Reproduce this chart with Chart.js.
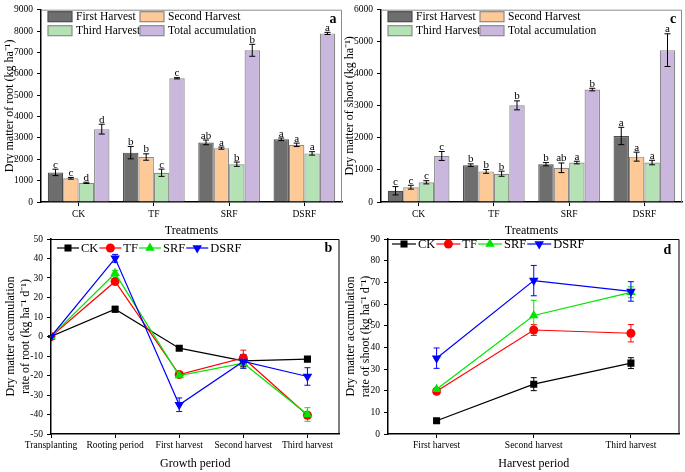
<!DOCTYPE html>
<html><head><meta charset="utf-8">
<script src="https://cdn.jsdelivr.net/npm/chart.js@4/dist/chart.umd.min.js"></script>
<style>
html,body{margin:0;padding:0;background:#fff;width:685px;height:472px;overflow:hidden;position:relative}
canvas{position:absolute}
</style></head><body>
<canvas id="ca" width="345" height="240" style="left:0;top:0"></canvas>
<canvas id="cc" width="345" height="240" style="left:340px;top:0"></canvas>
<canvas id="cb" width="345" height="246" style="left:0;top:226px"></canvas>
<canvas id="cd" width="345" height="246" style="left:340px;top:226px"></canvas>
<script>
// ---------- DATA ----------
const treatments = ['CK', 'TF', 'SRF', 'DSRF'];
const harvestSeries = ['First Harvest', 'Second Harvest', 'Third Harvest', 'Total accumulation'];
const yTicksRoot = [0, 1000, 2000, 3000, 4000, 5000, 6000, 7000, 8000, 9000];
const yTicksShoot = [0, 1000, 2000, 3000, 4000, 5000, 6000];

// Panel a: dry matter of root (rows = harvest series, cols = treatments)
const rootMeans = [
  [1385, 2310, 2790, 2935],
  [1110, 2105, 2520, 2675],
  [895, 1370, 1770, 2275],
  [3410, 5790, 7100, 7890]
];
const rootErr = [
  [150, 290, 110, 60],
  [40, 150, 50, 80],
  [30, 170, 100, 80],
  [230, 30, 280, 50]
];
const rootLetters = [
  ['c', 'b', 'ab', 'a'],
  ['c', 'b', 'a', 'a'],
  ['d', 'c', 'b', 'a'],
  ['d', 'c', 'b', 'a']
];

// Panel c: dry matter of shoot
const shootMeans = [
  [350, 1150, 1180, 2060],
  [462, 955, 1067, 1415],
  [615, 882, 1231, 1231],
  [1436, 3015, 3508, 4738]
];
const shootErr = [
  [130, 40, 50, 270],
  [60, 60, 150, 140],
  [50, 80, 40, 70],
  [140, 140, 40, 510]
];
const shootLetters = [
  ['c', 'b', 'b', 'a'],
  ['c', 'b', 'ab', 'a'],
  ['c', 'b', 'a', 'a'],
  ['c', 'b', 'b', 'a']
];

// Panel b: dry matter accumulation rate of root (rows = treatments)
const growthPeriods = ['Transplanting', 'Rooting period', 'First harvest', 'Second harvest', 'Third harvest'];
const rootRateMeans = [
  [0, 14, -6, -12.5, -11.6],
  [0, 28.2, -19.5, -11, -40.4],
  [0, 32.4, -20, -13.7, -40],
  [0, 40.1, -35, -12.8, -20.5]
];
const rootRateErr = [
  [0.5, 1.5, 1, 3, 1],
  [0.5, 1.5, 1, 4, 1.5],
  [0.5, 1.5, 1, 2.5, 3.5],
  [0.5, 2, 3.5, 3.5, 4.5]
];

// Panel d: dry matter accumulation rate of shoot
const harvestPeriods = ['First harvest', 'Second harvest', 'Third harvest'];
const shootRateMeans = [
  [6.1, 23, 32.7],
  [19.7, 48, 46.5],
  [20.7, 54.7, 65.4],
  [35, 70.8, 65.8]
];
const shootRateErr = [
  [1, 3, 2.5],
  [1, 2.5, 4],
  [0.5, 7, 2.5],
  [4.7, 7, 4.5]
];

// ---------- STYLE ----------
const SERIF = '"Liberation Serif", "Times New Roman", serif';
Chart.defaults.font.family = SERIF;
Chart.defaults.color = '#000';
const barFills = ['#6e6e6e', '#fcc997', '#b5e2b5', '#c9b7de'];
const barBorders = ['#4d4d4d', '#8a8a8a', '#8a8a8a', '#8a8a8a'];
const lineColors = ['#000000', '#ff0000', '#00e600', '#0000ff'];
const pointStyles = ['rect', 'circle', 'triangle', 'triangle'];
const pointRotations = [0, 0, 0, 180];
const pointRadii = [5, 4.5, 5.5, 5.5];

// ---------- PLUGINS ----------
function drawMarker(ctx, style, rot, r, x, y, color) {
  ctx.save();
  ctx.fillStyle = color; ctx.strokeStyle = color;
  ctx.beginPath();
  if (style === 'rect') {
    const s = r * Math.SQRT2 / 1.0 * 0.5;
    ctx.rect(x - s, y - s, 2 * s, 2 * s);
  } else if (style === 'circle') {
    ctx.arc(x, y, r, 0, Math.PI * 2);
  } else {
    const d = rot === 180 ? -1 : 1;
    const h = r * 1.5 * 0.5;
    ctx.moveTo(x, y - d * r);
    ctx.lineTo(x - r * 0.866, y + d * r * 0.5);
    ctx.lineTo(x + r * 0.866, y + d * r * 0.5);
    ctx.closePath();
  }
  ctx.fill();
  ctx.restore();
}

const errPlugin = {
  id: 'errbars',
  beforeDatasetsDraw(chart, args, o) { if (o.when === 'before') drawErr(chart, o); },
  afterDatasetsDraw(chart, args, o) { if (o.when !== 'before') drawErr(chart, o); }
};
function drawErr(chart, o) {
  const ctx = chart.ctx, ys = chart.scales.y;
  ctx.save();
  chart.data.datasets.forEach((ds, di) => {
    const meta = chart.getDatasetMeta(di);
    meta.data.forEach((el, i) => {
      const v = meta.controller.getParsed(i).y;
      const e = o.errors[di][i];
      const yt = ys.getPixelForValue(v + e), yb = ys.getPixelForValue(v - e);
      const x = el.x;
      ctx.strokeStyle = o.colors ? o.colors[di] : '#000';
      ctx.lineWidth = 1;
      ctx.beginPath();
      ctx.moveTo(x, yt); ctx.lineTo(x, yb);
      ctx.moveTo(x - o.cap, yt); ctx.lineTo(x + o.cap, yt);
      ctx.moveTo(x - o.cap, yb); ctx.lineTo(x + o.cap, yb);
      ctx.stroke();
      if (o.letters) {
        ctx.fillStyle = '#000';
        ctx.font = '11px ' + SERIF;
        ctx.textAlign = 'center';
        ctx.textBaseline = 'alphabetic';
        ctx.fillText(o.letters[di][i], x, yt - 1.5);
      }
    });
  });
  ctx.restore();
}

const framePlugin = {
  id: 'frame',
  afterDraw(chart, args, o) {
    const ctx = chart.ctx, a = chart.chartArea;
    ctx.save();
    ctx.strokeStyle = o.color; ctx.lineWidth = 1;
    ctx.beginPath();
    ctx.moveTo(a.left, a.top + 0.5);
    ctx.lineTo(a.right - 0.5, a.top + 0.5);
    ctx.lineTo(a.right - 0.5, a.bottom);
    ctx.stroke();
    ctx.fillStyle = '#000';
    ctx.font = 'bold 14px ' + SERIF;
    ctx.textAlign = 'center'; ctx.textBaseline = 'middle';
    ctx.fillText(o.letter, a.right + o.lx, a.top + o.ly);
    // legends
    if (o.type === 'box') {
      ctx.font = '11.5px ' + SERIF;
      ctx.textAlign = 'left';
      chart.data.datasets.forEach((ds, k) => {
        const col = k % 2, row = Math.floor(k / 2);
        const bx = a.left + o.cols[col], by = a.top + o.rows[row];
        ctx.fillStyle = ds.backgroundColor;
        ctx.fillRect(bx, by - 5, 24, 10);
        ctx.strokeStyle = ds.borderColor; ctx.lineWidth = 1.2;
        ctx.strokeRect(bx, by - 5, 24, 10);
        ctx.fillStyle = '#000';
        ctx.fillText(ds.label, bx + 28, by + 0.5);
      });
    } else if (o.type === 'line') {
      ctx.font = '12.5px ' + SERIF;
      ctx.textAlign = 'left';
      let x = a.left + o.lx0;
      const y = a.top + o.ly0;
      chart.data.datasets.forEach((ds, k) => {
        ctx.strokeStyle = ds.borderColor; ctx.lineWidth = 1.2;
        ctx.beginPath(); ctx.moveTo(x, y); ctx.lineTo(x + o.len, y); ctx.stroke();
        drawMarker(ctx, pointStyles[k], pointRotations[k], pointRadii[k], x + o.len / 2, y, ds.borderColor);
        ctx.fillStyle = '#000';
        ctx.fillText(ds.label, x + o.len + 2, y + 0.5);
        x += o.len + 2 + ctx.measureText(ds.label).width + 1;
      });
    }
    ctx.restore();
  }
};

function axisCommon() {
  return {
    grid: { display: true, drawOnChartArea: false, drawTicks: true, tickLength: 4, color: '#000', offset: false },
    border: { display: true, color: '#000', width: 1.5 }
  };
}

// ---------- BAR PANELS ----------
function barPanel(id, means, errs, letters, yTicks, yTitle, letter, lx) {
  const yMax = yTicks[yTicks.length - 1];
  return new Chart(document.getElementById(id), {
    type: 'bar',
    data: {
      labels: treatments,
      datasets: harvestSeries.map((name, k) => ({
        label: name, data: means[k],
        backgroundColor: barFills[k], borderColor: barBorders[k], borderWidth: 1.2,
        categoryPercentage: 0.82, barPercentage: 1
      }))
    },
    options: {
      responsive: false, animation: false, devicePixelRatio: 1, events: [],
      layout: { padding: { top: 7, right: 3, left: 0, bottom: 0 } },
      plugins: {
        legend: { display: false }, tooltip: { enabled: false },
        errbars: { errors: errs, letters: letters, cap: 3, when: 'after' },
        frame: { color: '#8c8c8c', letter: letter, lx: lx, ly: 10, type: 'box', cols: [7, 99], rows: [7, 21] }
      },
      scales: {
        x: Object.assign(axisCommon(), {
          ticks: { font: { size: 9.5 }, padding: 3, color: '#000' },
          title: { display: true, text: 'Treatments', font: { size: 12 }, padding: { top: 0, bottom: 2 } },
          afterFit: s => { s.height = 38; }
        }),
        y: Object.assign(axisCommon(), {
          min: 0, max: yMax,
          afterBuildTicks: s => { s.ticks = yTicks.map(v => ({ value: v })); },
          ticks: { font: { size: 9.5 }, padding: 4, color: '#000', callback: v => String(v) },
          title: { display: true, text: yTitle, font: { size: 12 }, padding: { top: 3, bottom: 0 } },
          afterFit: s => { s.width = 41; }
        })
      }
    },
    plugins: [errPlugin, framePlugin]
  });
}

barPanel('ca', rootMeans, rootErr, rootLetters, yTicksRoot, 'Dry matter of root (kg ha\u207B\u00B9)', 'a', -9);
barPanel('cc', shootMeans, shootErr, shootLetters, yTicksShoot, 'Dry matter of shoot (kg ha\u207B\u00B9)', 'c', -9);

// ---------- LINE PANELS ----------
function lineDatasets(means, xy) {
  return treatments.map((t, k) => ({
    label: t,
    data: xy ? means[k].map((v, i) => ({ x: i, y: v })) : means[k],
    borderColor: lineColors[k], backgroundColor: lineColors[k],
    borderWidth: 1.2, pointStyle: pointStyles[k], pointRotation: pointRotations[k],
    pointRadius: pointRadii[k], pointBorderWidth: 0, order: 3 - k
  }));
}

// Panel b
new Chart(document.getElementById('cb'), {
  type: 'line',
  data: { datasets: lineDatasets(rootRateMeans, true) },
  options: {
    responsive: false, animation: false, devicePixelRatio: 1, events: [],
    layout: { padding: { top: 13, right: 2, left: 0, bottom: 0 } },
    plugins: {
      legend: { display: false }, tooltip: { enabled: false },
      errbars: { errors: rootRateErr, colors: lineColors, cap: 3, when: 'before' },
      frame: { color: '#000', letter: 'b', lx: -11, ly: 9, type: 'line', lx0: 6, ly0: 9, len: 22 }
    },
    scales: {
      x: Object.assign(axisCommon(), {
        type: 'linear', min: 0, max: 4.5,
        ticks: { stepSize: 1, includeBounds: false, autoSkip: false, maxRotation: 0, font: { size: 9.5 }, padding: 2,
          callback: v => (growthPeriods[v] !== undefined ? growthPeriods[v] : '') },
        title: { display: true, text: 'Growth period', font: { size: 12 }, padding: { top: 0, bottom: 1 } },
        afterFit: s => { s.height = 38; }
      }),
      y: Object.assign(axisCommon(), {
        min: -50, max: 50,
        ticks: { stepSize: 10, font: { size: 9.5 }, padding: 4, callback: v => String(v) },
        title: { display: true, text: ['Dry matter accumulation', 'rate of root (kg ha\u207B\u00B9 d\u207B\u00B9)'], font: { size: 12 }, padding: { top: 4, bottom: 0 } },
        afterFit: s => { s.width = 51; }
      })
    }
  },
  plugins: [errPlugin, framePlugin]
});

// Panel d
new Chart(document.getElementById('cd'), {
  type: 'line',
  data: { labels: harvestPeriods, datasets: lineDatasets(shootRateMeans, false) },
  options: {
    responsive: false, animation: false, devicePixelRatio: 1, events: [],
    layout: { padding: { top: 13, right: 3, left: 0, bottom: 0 } },
    plugins: {
      legend: { display: false }, tooltip: { enabled: false },
      errbars: { errors: shootRateErr, colors: lineColors, cap: 3, when: 'before' },
      frame: { color: '#000', letter: 'd', lx: -12, ly: 11, type: 'line', lx0: 4, ly0: 5, len: 24 }
    },
    scales: {
      x: Object.assign(axisCommon(), {
        offset: true,
        ticks: { autoSkip: false, maxRotation: 0, font: { size: 9.5 }, padding: 2 },
        title: { display: true, text: 'Harvest period', font: { size: 12 }, padding: { top: 0, bottom: 1 } },
        afterFit: s => { s.height = 38; }
      }),
      y: Object.assign(axisCommon(), {
        min: 0, max: 90,
        ticks: { stepSize: 10, font: { size: 9.5 }, padding: 4, callback: v => String(v) },
        title: { display: true, text: ['Dry matter accumulation', 'rate of shoot (kg ha\u207B\u00B9 d\u207B\u00B9)'], font: { size: 12 }, padding: { top: 4, bottom: 0 } },
        afterFit: s => { s.width = 48; }
      })
    }
  },
  plugins: [errPlugin, framePlugin]
});
</script>
</body></html>
